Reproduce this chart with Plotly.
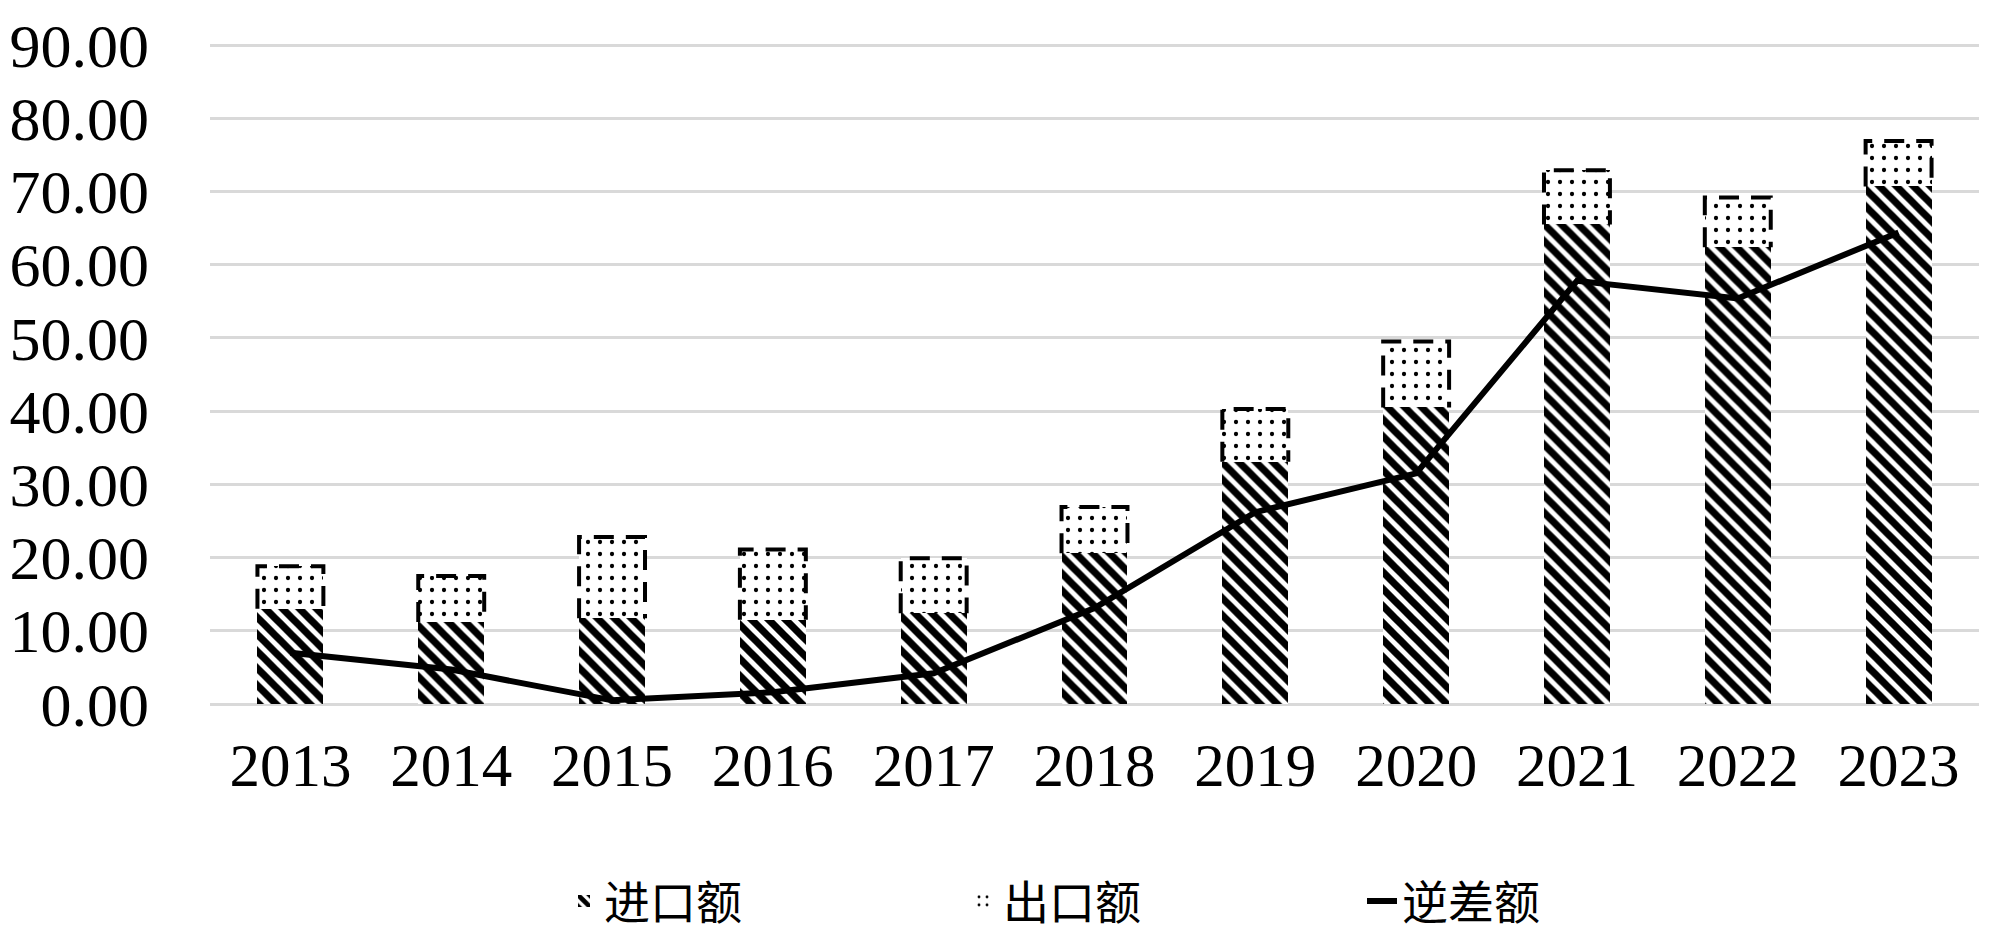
import plotly.graph_objects as go

years = [2013, 2014, 2015, 2016, 2017, 2018, 2019, 2020, 2021, 2022, 2023]
imports = [13.0, 11.2, 11.7, 11.5, 12.4, 20.6, 33.1, 40.5, 65.5, 62.4, 70.7]
exports = [5.8, 6.3, 11.1, 9.6, 7.5, 6.3, 7.2, 9.0, 7.4, 6.8, 6.2]
deficit = [7.0, 4.7, 0.5, 1.6, 4.2, 13.1, 26.2, 31.5, 57.8, 55.4, 64.4]
y_ticks = [0, 10, 20, 30, 40, 50, 60, 70, 80, 90]

BAR_W = 0.41
serif = "Liberation Serif, Times New Roman, serif"
cjk = "Noto Sans CJK SC, sans-serif"

fig = go.Figure()
fig.add_trace(go.Bar(
    x=years, y=imports, name="进口额", width=BAR_W,
    marker=dict(color="white", line=dict(width=0),
                pattern=dict(shape="\\", fgcolor="black", bgcolor="white",
                             fgopacity=1, size=12, solidity=0.6,
                             fillmode="overlay")),
))
fig.add_trace(go.Bar(
    x=years, y=exports, name="出口额", width=BAR_W,
    marker=dict(color="white", line=dict(width=0),
                pattern=dict(shape=".", fgcolor="black", bgcolor="white",
                             fgopacity=1, size=12, solidity=0.1,
                             fillmode="overlay")),
))

# dashed outline of export segments, derived from data
ox, oy = [], []
for yr, imp, ex in zip(years, imports, exports):
    x0, x1 = yr - BAR_W / 2, yr + BAR_W / 2
    top = imp + ex
    ox += [x0, x0, x1, x1, None]
    oy += [imp, top, top, imp, None]
fig.add_trace(go.Scatter(
    x=ox, y=oy, mode="lines", showlegend=False, hoverinfo="skip",
    line=dict(color="black", width=4, dash="20px,12px"),
))

fig.add_trace(go.Scatter(
    x=years, y=deficit, name="逆差额", mode="lines",
    line=dict(color="black", width=6),
))

fig.update_layout(
    barmode="stack",
    width=2000, height=940,
    margin=dict(l=202, r=29, t=36, b=244, autoexpand=False),
    paper_bgcolor="white", plot_bgcolor="white",
    showlegend=True,
    legend=dict(orientation="h", xref="container", yref="container",
                x=0.278, xanchor="left", y=0.05, yanchor="middle",
                font=dict(family=cjk, size=46, color="black"),
                entrywidth=354, entrywidthmode="pixels",
                itemwidth=30, traceorder="normal"),
    xaxis=dict(
        range=[2012.5, 2023.5], tickmode="array", tickvals=years,
        ticktext=[str(y) for y in years], showgrid=False, zeroline=False,
        showline=False, ticks="", ticklabelstandoff=20,
        tickfont=dict(family=serif, size=61, color="black"),
    ),
    yaxis=dict(
        range=[0, 90.15], tickmode="array", tickvals=y_ticks,
        ticktext=[f"{v:.2f}" for v in y_ticks],
        showgrid=True, gridcolor="#d9d9d9", gridwidth=3,
        zeroline=True, zerolinecolor="#d9d9d9", zerolinewidth=3,
        showline=False, ticks="", ticklabelstandoff=60,
        tickfont=dict(family=serif, size=62, color="black"),
    ),
)

fig.write_html("out.html")
